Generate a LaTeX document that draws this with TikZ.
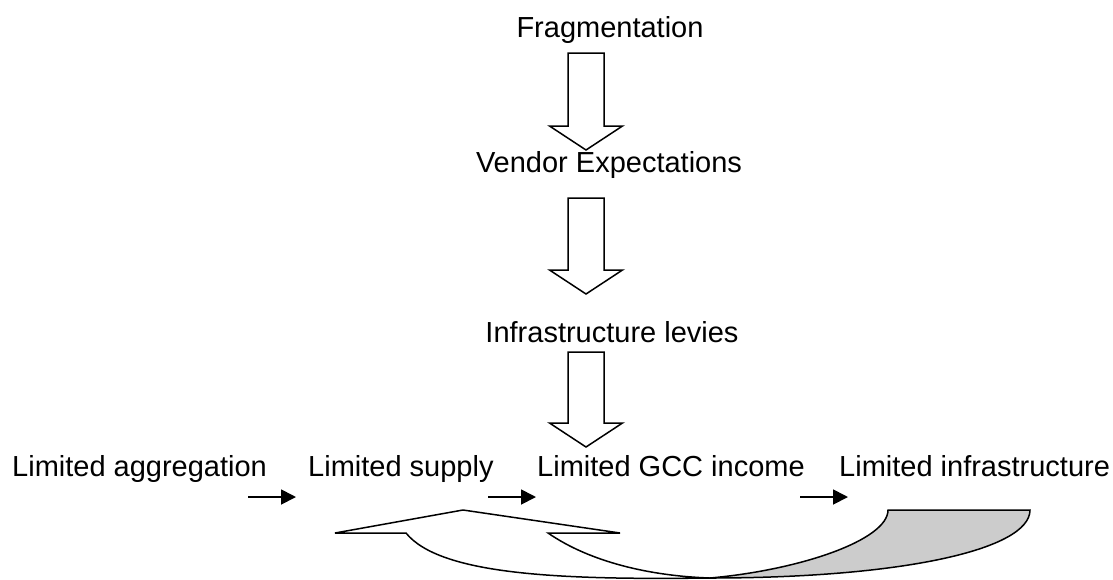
\documentclass[tikz,border=0pt]{standalone}
\usepackage{fontspec}
\setmainfont{Liberation Sans}
\usetikzlibrary{arrows.meta, positioning}

\begin{document}
\begin{tikzpicture} [x = 1pt, y = -1pt, font = \fontsize{29}{34}\selectfont,
  lbl/.style = {inner sep = 0pt, anchor = base},
  thinarrow/.style = {-{Triangle[length = 15pt, width = 15pt]}, line width = 1.8pt},
  blockline/.style = {line width = 1.5pt, line join = miter},
  pics/downblock/.style = {code = {
    \draw [blockline, fill = white] (-18,0) -- (18,0) -- (18,#1) -- (36.5,#1)
      -- (0,#1+24) -- (-36.5,#1) -- (-18,#1) -- cycle;}}]
\useasboundingbox (0,0) rectangle (1113,579);
\node [lbl] (frag) at (610,37) {Fragmentation};
\node [lbl] (vendor) at (609,172) {Vendor Expectations};
\node [lbl] (levies) at (612,342) {Infrastructure levies};
\node [lbl, anchor = base west] (aggr) at (12,476) {Limited aggregation};
\node [lbl, anchor = base west] (supply) at (308,476) {Limited supply};
\node [lbl, anchor = base west] (income) at (537,476) {Limited GCC income};
\node [lbl, anchor = base west] (infra) at (839,476) {Limited infrastructure};
% block arrows down the middle
\pic at (586,53) {downblock = 73};
\pic at (586,198) {downblock = 72};
\pic at (586,352) {downblock = 71};
% small arrows along the row
\coordinate (s1) at (248,497);
\coordinate (s2) at (488,497);
\coordinate (s3) at (800,497);
\foreach \s in {s1, s2, s3}
  \draw [thinarrow] (\s) -- ++(48,0);
% curved arrow back
\draw [blockline, fill = white] (406,533) -- (335,533) -- (463,510) -- (620,533) -- (548,533)
  .. controls (590,562) and (650,576) .. (710,578)
  .. controls (560,580) and (440,575) .. (406,533) -- cycle;
\draw [blockline, fill = gray!40] (888,510) -- (1030,510)
  .. controls (1030,550) and (900,578) .. (710,578)
  .. controls (800,570) and (888,540) .. (888,510) -- cycle;
\end{tikzpicture}
\end{document}
